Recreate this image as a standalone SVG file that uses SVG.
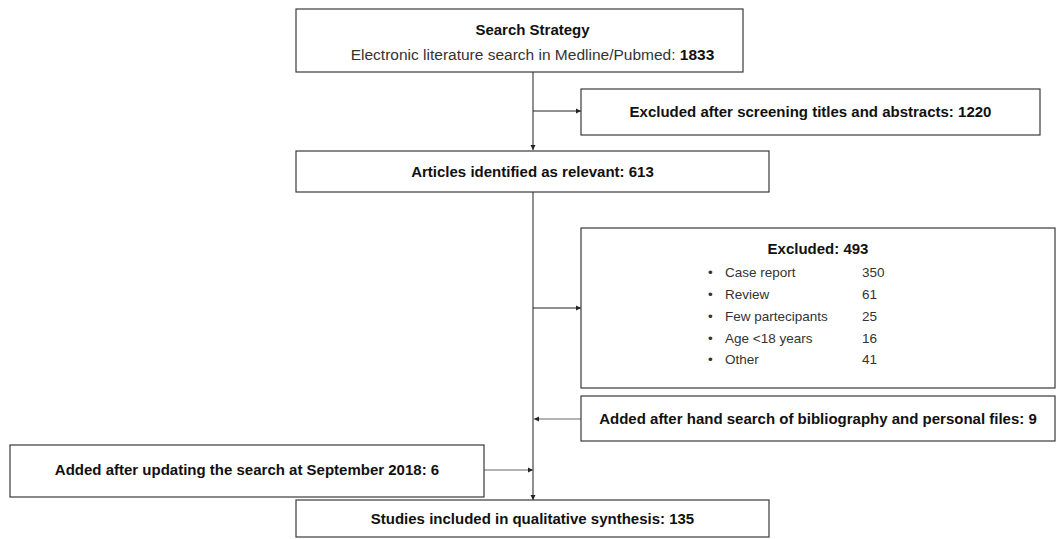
<svg xmlns="http://www.w3.org/2000/svg" width="1060" height="539" viewBox="0 0 1060 539">
<style>
.box{fill:#fff;stroke:#3a3a3a;stroke-width:1.2}
.t{font-family:"Liberation Sans",Arial,sans-serif;font-size:15px;fill:#111}
.r{font-size:15.5px;fill:#333}
.b{font-weight:bold}
.s{font-size:13.5px;fill:#333}
.c{fill:none;stroke:#222;stroke-width:1}
.g{stroke:#666}
</style>
<defs>
<marker id="ah" markerWidth="6" markerHeight="6" refX="5" refY="3" orient="auto" markerUnits="userSpaceOnUse">
<path d="M0,0.5 L5,3 L0,5.5 Z" fill="#222"/>
</marker>
</defs>
<rect width="1060" height="539" fill="#fff"/>
<g id="connectors">
<line class="c" x1="533" y1="72" x2="533" y2="150" marker-end="url(#ah)"/>
<line class="c" x1="533" y1="111" x2="581" y2="111" marker-end="url(#ah)"/>
<line class="c" x1="533" y1="192" x2="533" y2="500" marker-end="url(#ah)"/>
<line class="c" x1="533" y1="308" x2="581" y2="308" marker-end="url(#ah)"/>
<line class="c g" x1="581" y1="419" x2="534" y2="419" marker-end="url(#ah)"/>
<line class="c g" x1="484" y1="470" x2="533" y2="470" marker-end="url(#ah)"/>
</g>
<g id="search">
<rect class="box" x="296" y="9" width="447" height="63"/>
<text class="t b" x="532.5" y="35" text-anchor="middle">Search Strategy</text>
<text class="t r" x="532.5" y="60" text-anchor="middle">Electronic literature search in Medline/Pubmed: <tspan class="b" fill="#111">1833</tspan></text>
</g>
<g id="excluded1">
<rect class="box" x="581" y="89" width="459" height="46"/>
<text class="t b" x="810.5" y="117" text-anchor="middle">Excluded after screening titles and abstracts: 1220</text>
</g>
<g id="articles">
<rect class="box" x="296" y="151" width="473" height="41"/>
<text class="t b" x="532.5" y="177" text-anchor="middle">Articles identified as relevant: 613</text>
</g>
<g id="excluded2">
<rect class="box" x="581" y="228" width="474" height="160"/>
<text class="t b" x="818" y="254" text-anchor="middle">Excluded: 493</text>
<g class="t s">
<text x="708" y="277">•</text><text x="725" y="277">Case report</text><text x="862" y="277">350</text>
<text x="708" y="299">•</text><text x="725" y="299">Review</text><text x="862" y="299">61</text>
<text x="708" y="321">•</text><text x="725" y="321">Few partecipants</text><text x="862" y="321">25</text>
<text x="708" y="343">•</text><text x="725" y="343">Age &lt;18 years</text><text x="862" y="343">16</text>
<text x="708" y="364">•</text><text x="725" y="364">Other</text><text x="862" y="364">41</text>
</g>
</g>
<g id="handsearch">
<rect class="box" x="581" y="396" width="474" height="45"/>
<text class="t b" x="818" y="424" text-anchor="middle">Added after hand search of bibliography and personal files: 9</text>
</g>
<g id="update">
<rect class="box" x="10" y="445" width="474" height="52"/>
<text class="t b" x="247" y="475" text-anchor="middle">Added after updating the search at September 2018: 6</text>
</g>
<g id="studies">
<rect class="box" x="296" y="500" width="473" height="37"/>
<text class="t b" x="532.5" y="524" text-anchor="middle">Studies included in qualitative synthesis: 135</text>
</g>
</svg>
